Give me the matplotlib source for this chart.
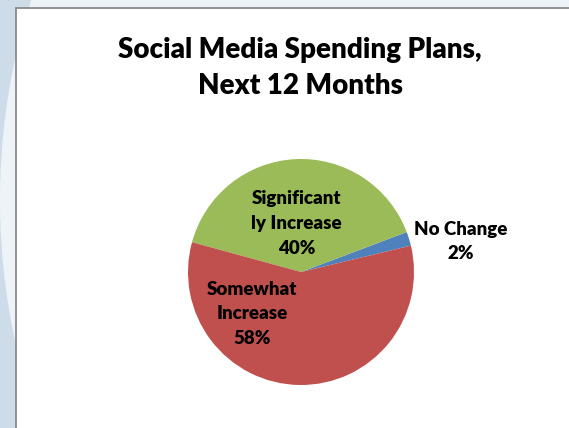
import matplotlib
matplotlib.use("Agg")
import matplotlib.pyplot as plt
import matplotlib.patches as patches

# survey shares, in the order they are drawn (counter-clockwise from the right)
categories = ["No Change", "Significantly Increase", "Somewhat Increase"]
label_text = ["No Change", "Significant\nly Increase", "Somewhat\nIncrease"]
shares = [2, 40, 58]
colors = ["#4F81BD", "#9BBB59", "#C0504D"]

title = "Social Media Spending Plans,\nNext 12 Months"

W, H = 569, 428
fig = plt.figure(figsize=(W / 100, H / 100), dpi=100)
fig.patch.set_facecolor("#cddce8")

# slide background swoosh behind the chart frame
bg = fig.add_axes([0, 0, 1, 1])
bg.set_xlim(0, W)
bg.set_ylim(H, 0)
bg.axis("off")
bg.add_patch(patches.Ellipse((300, 200), 600, 900, facecolor="#eef3f8", edgecolor="none"))
bg.add_patch(patches.Rectangle((16.5, 7.5), W, H, facecolor="white",
                               edgecolor="#8a8a8a", linewidth=1.3))

plt.rcParams["font.family"] = ["Lato", "DejaVu Sans"]

fig.text(300 / W, 1 - 68 / H, title, ha="center", va="center",
         fontsize=20, fontweight="heavy", linespacing=1.45)

# pie centred at (301, 272) px with radius 113 px
cx, cy, r = 301, 272, 113
ax = fig.add_axes([(cx - r) / W, (H - cy - r) / H, 2 * r / W, 2 * r / H])
wedges, _ = ax.pie(shares, colors=colors, startangle=13.5, counterclock=True,
                   wedgeprops=dict(linewidth=0))
ax.set_xlim(-1, 1)
ax.set_ylim(-1, 1)
ax.set_aspect("equal")
ax.axis("off")

label_pos = [(1.41, 0.27), (-0.04, 0.43), (-0.43, -0.37)]
for txt, val, (x, y) in zip(label_text, shares, label_pos):
    ax.text(x, y, f"{txt}\n{val}%", ha="center", va="center", fontsize=13.5,
            fontweight="heavy", linespacing=1.55, clip_on=False)

fig.savefig("out.png", dpi=100)
